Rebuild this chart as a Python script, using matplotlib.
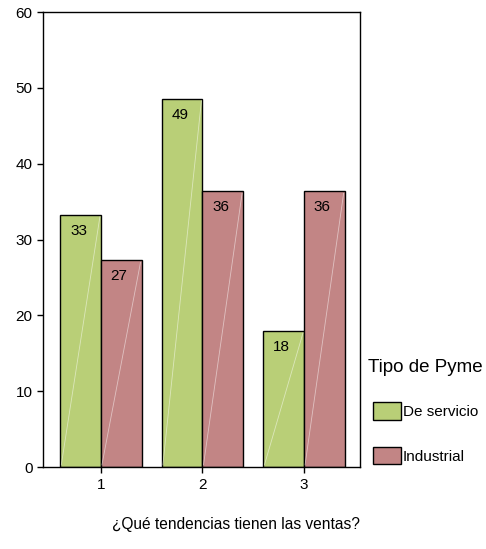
import matplotlib
matplotlib.use("Agg")
import matplotlib.pyplot as plt
import numpy as np

plt.rcParams['font.family'] = ['Liberation Sans', 'DejaVu Sans']

categories = ['1', '2', '3']
servicio = [33.3, 48.6, 18.0]
industrial = [27.3, 36.4, 36.4]
labels_servicio = ['33', '49', '18']
labels_industrial = ['27', '36', '36']
series_names = ['De servicio', 'Industrial']
colors = ['#b9cf77', '#c28585']

fig = plt.figure(figsize=(4.86, 5.49), dpi=100)
ax = fig.add_axes([0.0885, 0.149, 0.652, 0.829])

x = np.arange(1, len(categories) + 1)
w = 0.4
b1 = ax.bar(x - w / 2, servicio, w, color=colors[0], edgecolor='black', linewidth=1.0, label=series_names[0])
b2 = ax.bar(x + w / 2, industrial, w, color=colors[1], edgecolor='black', linewidth=1.0, label=series_names[1])

# faint diagonal sheen on each bar
for bars in (b1, b2):
    for p in bars:
        x0, h = p.get_x(), p.get_height()
        ax.plot([x0 + 0.01, x0 + p.get_width() - 0.01], [0.3, h - 0.3], color='white', lw=0.6, alpha=0.5)

for bars, labs in ((b1, labels_servicio), (b2, labels_industrial)):
    for p, t in zip(bars, labs):
        ax.text(p.get_x() + p.get_width() * 0.45, p.get_height() - 1.2, t,
                ha='center', va='top', fontsize=11)

ax.set_xlim(0.43, 3.55)
ax.set_ylim(0, 60)
ax.set_yticks(range(0, 61, 10))
ax.set_xticks(x)
ax.set_xticklabels(categories)
ax.tick_params(labelsize=11, length=4, width=1, direction='out')
for s in ax.spines.values():
    s.set_linewidth(1.0)

fig.text(0.486, 0.044, '¿Qué tendencias tienen las ventas?', fontsize=11.2, ha='center', va='center')

fig.text(0.757, 0.331, 'Tipo de Pyme', fontsize=13.5, ha='left', va='center')
leg = ax.legend(loc='upper left', bbox_to_anchor=(0.768, 0.267),
                bbox_transform=fig.transFigure, frameon=False, fontsize=11,
                handlelength=1.8, handleheight=1.4,
                handletextpad=0.15, labelspacing=1.75, borderaxespad=0, borderpad=0)
for h in leg.legend_handles:
    h.set_edgecolor('black')

fig.savefig('out.png', dpi=100)
